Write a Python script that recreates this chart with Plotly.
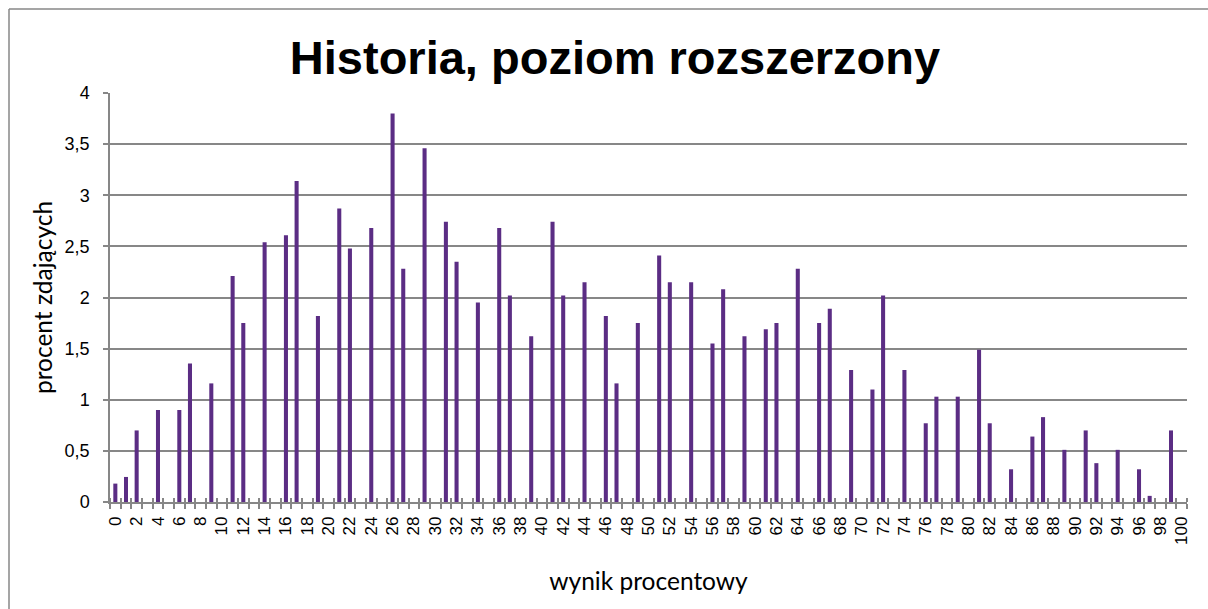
import plotly.graph_objects as go

# ---- data ----
categories = list(range(0, 101))
bar_positions = [0, 1, 2, 4, 6, 7, 9, 11, 12, 14, 16, 17, 19, 21, 22, 24, 26, 27, 29, 31,
                 32, 34, 36, 37, 39, 41, 42, 44, 46, 47, 49, 51, 52, 54, 56, 57, 59, 61, 62, 64,
                 66, 67, 69, 71, 72, 74, 76, 77, 79, 81, 82, 84, 86, 87, 89, 91, 92, 94, 96, 97, 99]
bar_values = [0.18, 0.245, 0.70, 0.90, 0.90, 1.355, 1.16, 2.21, 1.75, 2.54, 2.61, 3.14, 1.82, 2.87, 2.48, 2.68, 3.80, 2.28, 3.46, 2.74,
              2.35, 1.95, 2.68, 2.02, 1.62, 2.74, 2.02, 2.15, 1.82, 1.16, 1.75, 2.41, 2.15, 2.15, 1.55, 2.08, 1.62, 1.69, 1.75, 2.28,
              1.75, 1.89, 1.29, 1.10, 2.02, 1.29, 0.77, 1.03, 1.03, 1.49, 0.77, 0.32, 0.64, 0.83, 0.51, 0.70, 0.38, 0.51, 0.32, 0.06, 0.70]
value_map = dict(zip(bar_positions, bar_values))
percent_values = [value_map.get(c, 0) for c in categories]

x_tick_vals = list(range(0, 101, 2))
x_tick_text = [str(v) for v in x_tick_vals]
boundaries = [c - 0.5 for c in categories] + [categories[-1] + 0.5]

title_text = "Historia, poziom rozszerzony"
x_title = "wynik procentowy"
y_title = "procent zdających"

GRID = "#878787"
BAR = "#5b2d84"
TXT = "#000000"

fig = go.Figure()
fig.add_trace(go.Bar(x=categories, y=percent_values, marker=dict(color=BAR, line=dict(width=0)),
                     xaxis="x", yaxis="y", showlegend=False))
# invisible helper trace so the overlay axis (inner half of category ticks) renders
fig.add_trace(go.Scatter(x=[categories[0]], y=[0], mode="markers", marker=dict(opacity=0),
                         xaxis="x2", yaxis="y", showlegend=False, hoverinfo="skip"))

fig.update_layout(
    width=1208, height=609,
    paper_bgcolor="white", plot_bgcolor="white",
    margin=dict(l=110, r=21, t=93, b=107),
    separators=", ",
    bargap=0.62,
    font=dict(family="Liberation Sans, Arial", color=TXT, size=17),
    title=dict(text=title_text, x=615 / 1208, xanchor="center", y=1 - 58 / 609, yanchor="middle",
               font=dict(family="Liberation Sans, Arial", size=47, color=TXT, weight="bold")),
    xaxis=dict(
        range=[-0.5, 100.5], tickmode="array", tickvals=x_tick_vals, ticktext=x_tick_text,
        tickangle=-90, ticks="", showgrid=False, zeroline=False,
        showline=True, linecolor=GRID, linewidth=1.5,
        tickfont=dict(family="Liberation Sans, Arial", size=17, color=TXT),
        ticklabelstandoff=6,
        minor=dict(tickmode="array", tickvals=boundaries, ticks="outside", ticklen=5,
                   tickcolor=GRID, tickwidth=1.5, showgrid=False),
        title=dict(text=x_title, standoff=29,
                   font=dict(family="Lato, Open Sans", size=24.5, color=TXT)),
    ),
    xaxis2=dict(
        overlaying="x", matches="x", anchor="y", side="bottom",
        range=[-0.5, 100.5], showticklabels=False, ticks="", showgrid=False, zeroline=False,
        showline=False,
        minor=dict(tickmode="array", tickvals=boundaries, ticks="inside", ticklen=4,
                   tickcolor=GRID, tickwidth=1.5, showgrid=False),
    ),
    yaxis=dict(
        range=[0, 4], tickmode="linear", tick0=0, dtick=0.5,
        ticks="outside", ticklen=5, tickcolor=GRID, tickwidth=1.5,
        showgrid=True, gridcolor=GRID, gridwidth=1.5, zeroline=False,
        showline=True, linecolor=GRID, linewidth=1.5,
        tickfont=dict(family="Liberation Sans, Arial", size=18, color=TXT),
        ticklabelstandoff=10,
        title=dict(text=y_title, standoff=5,
                   font=dict(family="Lato, Open Sans", size=24.5, color=TXT)),
    ),
    shapes=[
        dict(type="line", xref="paper", yref="paper", x0=(9 - 110) / 1077, x1=(9 - 110) / 1077,
             y0=(502 - 700) / 409, y1=(502 - 9) / 409, line=dict(color=GRID, width=1.5)),
        dict(type="line", xref="paper", yref="paper", x0=(9 - 110) / 1077, x1=(1300 - 110) / 1077,
             y0=(502 - 9) / 409, y1=(502 - 9) / 409, line=dict(color=GRID, width=1.5)),
    ],
)

fig.write_html("out.html", config={"displayModeBar": False},
               post_script="document.body.style.margin='0';document.body.style.overflow='hidden';")
